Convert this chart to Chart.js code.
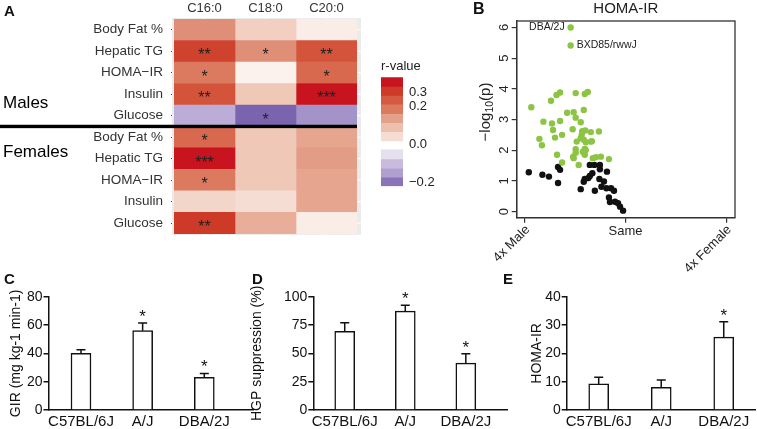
<!DOCTYPE html>
<html>
<head>
<meta charset="utf-8">
<script src="https://cdn.jsdelivr.net/npm/chart.js@4.4.1/dist/chart.umd.min.js"></script>
<style>
  body { margin: 0; background: #fff; width: 757px; height: 429px; overflow: hidden; position: relative; font-family: 'Liberation Sans', Arial, sans-serif; }
  canvas { position: absolute; }
  .tag { position: absolute; font-weight: bold; line-height: 1; color: #111; }
</style>
</head>
<body>
<canvas id="heat" width="370" height="250" style="left:0;top:0"></canvas>
<canvas id="legend" width="70" height="140" style="left:370px;top:60px"></canvas>
<canvas id="volcano" width="287" height="280" style="left:470px;top:0"></canvas>
<canvas id="gir" width="257" height="159" style="left:0;top:270px"></canvas>
<canvas id="hgp" width="260" height="159" style="left:250px;top:270px"></canvas>
<canvas id="homa" width="257" height="159" style="left:500px;top:270px"></canvas>
<div class="tag" style="left:4px;top:3px;font-size:15px">A</div>
<div class="tag" style="left:473px;top:1px;font-size:16px">B</div>
<div class="tag" style="left:4px;top:271px;font-size:15px">C</div>
<div class="tag" style="left:252px;top:271px;font-size:15px">D</div>
<div class="tag" style="left:503px;top:271px;font-size:15px">E</div>
<script>
// ---- panel A: correlation heatmap ----
const traits   = ['Body Fat %', 'Hepatic TG', 'HOMA−IR', 'Insulin', 'Glucose'];
const rowNames = [...traits, ...traits];          // males then females
const lipids   = ['C16:0', 'C18:0', 'C20:0'];
const groups   = ['Males', 'Females'];

const rC16 = [0.17, 0.28, 0.21, 0.26, -0.12, 0.23, 0.34, 0.21, 0.06, 0.29];
const rC18 = [0.07, 0.17, 0.01, 0.08, -0.22, 0.08, 0.08, 0.08, 0.05, 0.11];
const rC20 = [0.02, 0.26, 0.23, 0.34, -0.16, 0.12, 0.14, 0.12, 0.12, 0.02];
const starsC16 = ['', '**', '*', '**', '', '*', '***', '*', '', '**'];
const starsC18 = ['', '*', '', '', '*', '', '', '', '', ''];
const starsC20 = ['', '**', '*', '***', '', '', '', '', '', ''];

// colour bar
const legendBins   = [0.34, 0.29, 0.25, 0.21, 0.13, 0.09, 0.05, null, -0.05, -0.10, -0.14, -0.20];
const legendTicks  = [1.65, 3.2, 7.4, 11.6];
const legendLabels = ['0.3', '0.2', '0.0', '−0.2'];

// ---- panel B: sex-bias volcano ----
const sigFold = [-1.09, -1.09, -1.87, -1.48, -1.37, -1.30, -0.99, -0.81, -0.75, -1.16, -1.03, -0.83,
  -1.63, -1.46, -1.30, -0.99, -0.89, -1.44, -1.05, -1.40, -1.26, -1.71, -1.66, -0.86, -0.80, -0.69,
  -0.53, -0.87, -0.89, -0.83, -0.67, -0.79, -0.99, -0.81, -1.36, -1.26, -1.04, -0.99, -0.93, -0.85,
  -0.81, -0.79, -0.65, -0.59, -0.49, -0.33, -0.97, -0.69, -1.03];
const sigLogP = [6.00, 5.41, 3.40, 3.61, 3.80, 3.88, 3.86, 3.83, 3.90, 3.22, 3.24, 3.31,
  2.93, 2.87, 2.95, 3.06, 2.91, 2.66, 2.68, 2.41, 2.50, 2.37, 2.16, 2.62, 2.64, 2.59,
  2.61, 2.50, 2.39, 2.34, 2.29, 2.26, 2.03, 2.04, 1.85, 1.60, 1.79, 1.92, 1.52, 1.95,
  1.85, 2.01, 1.74, 1.77, 1.79, 1.71, 2.28, 2.28, 1.74];
const nsFold = [-1.92, -1.65, -1.52, -1.34, -1.30, -1.34, -0.71, -0.62, -0.51, -0.51, -0.37, -0.66,
  -0.71, -0.81, -0.83, -0.89, -0.61, -0.52, -0.43, -0.48, -0.38, -0.29, -0.23, -0.33, -0.31, -0.21,
  -0.15, -0.11, -0.05, -0.74];
const nsLogP = [1.28, 1.20, 1.14, 1.45, 1.36, 0.93, 1.52, 1.52, 1.52, 1.38, 1.30, 1.25,
  1.16, 1.06, 0.97, 0.73, 0.68, 1.06, 0.98, 0.81, 0.76, 0.76, 0.68, 0.46, 0.31, 0.32,
  0.27, 0.16, 0.03, 1.09];
const namedStrains = ['DBA/2J', 'BXD85/rwwJ'];   // first two significant points
const foldTicks  = [-2, 0, 2];
const foldLabels = ['4x Male', 'Same', '4x Female'];
const logpTicks  = [0, 1, 2, 3, 4, 5, 6];

// ---- panels C-E: strain comparison ----
const strains  = ['C57BL/6J', 'A/J', 'DBA/2J'];
const gir      = [40, 56, 23];
const girSem   = [2.5, 5.5, 2.8];
const girSig   = ['', '*', '*'];
const hgp      = [69.5, 87.2, 41.4];
const hgpSem   = [7.4, 5.3, 8.3];
const hgpSig   = ['', '*', '*'];
const homa     = [9.2, 8.0, 25.7];
const homaSem  = [2.4, 2.6, 5.5];
const homaSig  = ['', '', '*'];

const FONT = "'Liberation Sans', Arial, sans-serif";
Chart.defaults.font.family = FONT;
Chart.defaults.color = '#222';

const base = {
  responsive: false, animation: false, devicePixelRatio: 1,
  plugins: { legend: { display: false }, tooltip: { enabled: false } },
};

// r -> colour, ggplot-like red/purple diverging scale
const rStops   = [-0.22, -0.16, -0.12, -0.05, 0, 0.05, 0.08, 0.12, 0.17, 0.21, 0.23, 0.26, 0.29, 0.34];
const rColours = ['#7a64ae', '#a493c8', '#bcadd8', '#e5dfee', '#fdf6f3', '#f5ddd3', '#f0c8b8',
  '#e5a58f', '#df8f78', '#dc7a60', '#d8694f', '#d4533b', '#cd3a28', '#c8141e'];
function hex(c) { return [1, 3, 5].map(i => parseInt(c.slice(i, i + 2), 16)); }
function rColor(r) {
  if (r <= rStops[0]) return rColours[0];
  const n = rStops.length - 1;
  if (r >= rStops[n]) return rColours[n];
  let i = 0;
  while (r > rStops[i + 1]) i++;
  const t = (r - rStops[i]) / (rStops[i + 1] - rStops[i]);
  const a = hex(rColours[i]), b = hex(rColours[i + 1]);
  return `rgb(${a.map((v, k) => Math.round(v + (b[k] - v) * t)).join(',')})`;
}

// heatmap: each column is a stacked horizontal bar of unit width
const heatDecor = {
  id: 'heatDecor',
  beforeDatasetsDraw(chart) {
    const { ctx, chartArea: a, scales: { x, y } } = chart;
    ctx.save();
    ctx.fillStyle = '#ebebeb';
    ctx.fillRect(a.left - 2, a.top - 1, a.right - a.left + 6, a.bottom - a.top + 2);
    ctx.strokeStyle = '#fff';
    ctx.lineWidth = 1;
    y.ticks.forEach((t, i) => {
      const py = y.getPixelForTick(i);
      ctx.beginPath(); ctx.moveTo(a.left - 2, py); ctx.lineTo(a.right + 4, py); ctx.stroke();
    });
    x.ticks.forEach(t => {
      const px = x.getPixelForValue(t.value);
      ctx.beginPath(); ctx.moveTo(px, a.top - 1); ctx.lineTo(px, a.bottom + 1); ctx.stroke();
    });
    ctx.restore();
  },
  afterDatasetsDraw(chart) {
    const { ctx, chartArea: a, scales: { y } } = chart;
    const stars = [starsC16, starsC18, starsC20];
    ctx.save();
    ctx.fillStyle = '#222';
    ctx.font = '16px ' + FONT;
    ctx.textAlign = 'center';
    ctx.textBaseline = 'alphabetic';
    stars.forEach((col, c) => {
      chart.getDatasetMeta(c).data.forEach((el, r) => {
        if (col[r]) ctx.fillText(col[r], (el.x + el.base) / 2, el.y + 9);
      });
    });
    // sex separator
    const split = (y.getPixelForTick(4) + y.getPixelForTick(5)) / 2;
    ctx.fillStyle = '#000';
    ctx.fillRect(0, split - 1.7, a.right, 3.4);
    ctx.font = '17px ' + FONT;
    ctx.textAlign = 'left';
    ctx.textBaseline = 'middle';
    ctx.fillText(groups[0], 3, split - 23.5);
    ctx.fillText(groups[1], 3, split + 26);
    ctx.restore();
  },
};

new Chart(document.getElementById('heat'), {
  type: 'bar',
  data: {
    labels: rowNames,
    datasets: [rC16, rC18, rC20].map(rs => ({
      data: rs.map(() => 1),
      backgroundColor: rs.map(rColor),
      borderWidth: 0,
      barPercentage: 1,
      categoryPercentage: 1,
    })),
  },
  options: {
    ...base,
    indexAxis: 'y',
    layout: { padding: { right: 13, bottom: 10 } },
    scales: {
      x: {
        position: 'top', stacked: true, min: 0, max: 3,
        afterBuildTicks: s => { s.ticks = lipids.map((_, i) => ({ value: i + 0.5 })); },
        afterFit: s => { s.height = 19; },
        ticks: { callback: (v, i) => lipids[i], font: { size: 13 }, color: '#333', padding: 3, maxRotation: 0, autoSkip: false },
        grid: { display: false, drawTicks: false },
        border: { display: false },
      },
      y: {
        stacked: true,
        afterFit: s => { s.width = 174; },
        ticks: { font: { size: 13.5 }, color: '#333', padding: 8, autoSkip: false },
        grid: { offset: false, drawOnChartArea: false, tickLength: 3, color: '#444' },
        border: { display: false },
      },
    },
  },
  plugins: [heatDecor],
});

// colour bar as floating bars
new Chart(document.getElementById('legend'), {
  type: 'bar',
  data: {
    labels: [''],
    datasets: legendBins.map((r, i) => r === null ? null : ({
      data: [[i, i + 1]],
      backgroundColor: rColor(r),
      borderWidth: 0,
      grouped: false,
      barPercentage: 1,
      categoryPercentage: 1,
    })).filter(d => d),
  },
  options: {
    ...base,
    layout: { padding: { left: 11, top: 17.3, bottom: 10.7 } },
    scales: {
      x: { display: false },
      y: {
        position: 'right', reverse: true, min: 0, max: 12,
        afterBuildTicks: s => { s.ticks = legendTicks.map(v => ({ value: v })); },
        afterFit: s => { s.width = 37; },
        ticks: { callback: (v, i) => legendLabels[i], font: { size: 13 }, color: '#222', padding: 6 },
        grid: { display: false, drawTicks: false },
        border: { display: false },
      },
    },
  },
  plugins: [{
    id: 'legendTitle',
    afterDraw(chart) {
      const { ctx, chartArea: a } = chart;
      ctx.save();
      ctx.fillStyle = '#222';
      ctx.font = '13px ' + FONT;
      ctx.textBaseline = 'middle';
      ctx.fillText('r-value', a.left, 6.7);
      ctx.restore();
    },
  }],
});

// volcano: base-R look, box, rotated tick labels
const volcanoDecor = {
  id: 'volcanoDecor',
  afterDraw(chart) {
    const { ctx, chartArea: a, scales: { x, y } } = chart;
    ctx.save();
    ctx.strokeStyle = '#333';
    ctx.lineWidth = 1.3;
    ctx.strokeRect(a.left, a.top, a.right - a.left, a.bottom - a.top);

    ctx.fillStyle = '#222';
    ctx.font = '13px ' + FONT;
    ctx.textBaseline = 'middle';
    ctx.textAlign = 'center';
    y.ticks.forEach(t => {
      ctx.save();
      ctx.translate(a.left - 12, y.getPixelForValue(t.value));
      ctx.rotate(-Math.PI / 2);
      ctx.fillText(String(t.value), 0, 0);
      ctx.restore();
    });
    x.ticks.forEach((t, i) => {
      const px = x.getPixelForValue(t.value);
      if (i === 1) {
        ctx.textAlign = 'center';
        ctx.fillText(foldLabels[i], px, a.bottom + 13.5);
      } else {
        ctx.save();
        ctx.translate(px + 3, a.bottom + 10);
        ctx.rotate(-Math.PI / 4);
        ctx.textAlign = 'right';
        ctx.fillText(foldLabels[i], 0, 0);
        ctx.restore();
      }
    });

    // strain labels
    const pts = chart.getDatasetMeta(0).data;
    ctx.font = '10.5px ' + FONT;
    ctx.textAlign = 'right';
    ctx.fillText(namedStrains[0], pts[0].x - 6, pts[0].y);
    ctx.textAlign = 'left';
    ctx.fillText(namedStrains[1], pts[1].x + 6, pts[1].y);

    // title
    ctx.font = '15px ' + FONT;
    ctx.textAlign = 'center';
    ctx.fillText('HOMA-IR', (a.left + a.right) / 2, 9);

    // y title with subscript
    ctx.save();
    ctx.translate(15, 112);
    ctx.rotate(-Math.PI / 2);
    const big = '15px ' + FONT, small = '10.5px ' + FONT;
    ctx.font = big;
    const w1 = ctx.measureText('−log').width, w3 = ctx.measureText('(p)').width;
    ctx.font = small;
    const w2 = ctx.measureText('10').width;
    let sx = -(w1 + w2 + w3) / 2;
    ctx.textAlign = 'left';
    ctx.textBaseline = 'alphabetic';
    ctx.font = big;   ctx.fillText('−log', sx, 5); sx += w1;
    ctx.font = small; ctx.fillText('10', sx, 8);   sx += w2;
    ctx.font = big;   ctx.fillText('(p)', sx, 5);
    ctx.restore();
    ctx.restore();
  },
};

new Chart(document.getElementById('volcano'), {
  type: 'scatter',
  data: {
    datasets: [
      { data: sigFold.map((x, i) => ({ x, y: sigLogP[i] })), backgroundColor: '#8cc443', pointRadius: 3.2, borderWidth: 0 },
      { data: nsFold.map((x, i) => ({ x, y: nsLogP[i] })), backgroundColor: '#111', pointRadius: 3.2, borderWidth: 0 },
    ],
  },
  options: {
    ...base,
    layout: { padding: { top: 21, right: 22 } },
    scales: {
      x: {
        min: -2.16, max: 2.17,
        afterBuildTicks: s => { s.ticks = foldTicks.map(v => ({ value: v })); },
        afterFit: s => { s.height = 62.3; },
        ticks: { display: false },
        grid: { drawOnChartArea: false, tickLength: 5, color: '#333', lineWidth: 1.2 },
        border: { color: '#333', width: 1.3 },
      },
      y: {
        min: -0.2, max: 6.21,
        afterBuildTicks: s => { s.ticks = logpTicks.map(v => ({ value: v })); },
        afterFit: s => { s.width = 46.7; },
        ticks: { display: false },
        grid: { drawOnChartArea: false, tickLength: 5, color: '#333', lineWidth: 1.2 },
        border: { color: '#333', width: 1.3 },
      },
    },
  },
  plugins: [volcanoDecor],
});

// bar panels with one-sided SEM whiskers
function errorBars(errors, stars) {
  return {
    id: 'errorBars',
    afterDatasetsDraw(chart) {
      const { ctx, scales: { y } } = chart;
      const bars = chart.getDatasetMeta(0).data;
      const vals = chart.data.datasets[0].data;
      ctx.save();
      ctx.strokeStyle = '#111';
      ctx.lineWidth = 1.5;
      ctx.fillStyle = '#111';
      ctx.font = '17px ' + FONT;
      ctx.textAlign = 'center';
      bars.forEach((bar, i) => {
        const top = y.getPixelForValue(vals[i].y + errors[i]);
        ctx.beginPath();
        ctx.moveTo(bar.x, bar.y); ctx.lineTo(bar.x, top);
        ctx.moveTo(bar.x - 4.5, top); ctx.lineTo(bar.x + 4.5, top);
        ctx.stroke();
        if (stars[i]) ctx.fillText(stars[i], bar.x, top - 1);
      });
      ctx.restore();
    },
  };
}

function barPanel(id, values, errors, stars, cfg) {
  return new Chart(document.getElementById(id), {
    type: 'bar',
    data: {
      datasets: [{
        data: values.map((v, i) => ({ x: i + 1, y: v })),
        backgroundColor: '#fff',
        borderColor: '#111',
        borderWidth: 1.5,
        borderSkipped: 'bottom',
        barThickness: 20,
      }],
    },
    options: {
      ...base,
      layout: { padding: { top: 26.7, right: cfg.right } },
      scales: {
        x: {
          type: 'linear', offset: false, min: cfg.xMin, max: cfg.xMax,
          afterBuildTicks: s => { s.ticks = strains.map((_, i) => ({ value: i + 1 })); },
          afterFit: s => { s.height = 19; },
          ticks: { callback: (v, i) => strains[i], font: { size: 15 }, color: '#111', padding: 3, maxRotation: 0, autoSkip: false },
          grid: { display: false, drawTicks: false, offset: false },
          border: { color: '#111', width: 1.5 },
        },
        y: {
          min: 0, max: cfg.yMax,
          afterFit: s => { s.width = cfg.yWidth; },
          ticks: { stepSize: cfg.step, font: { size: 14 }, color: '#111', padding: 1 },
          grid: { drawOnChartArea: false, tickLength: 5, color: '#111', lineWidth: 1.5 },
          border: { color: '#111', width: 1.5 },
          title: { display: true, text: cfg.title, color: '#111', font: { size: 14, lineHeight: 1 }, padding: { top: cfg.titlePad, bottom: 0 } },
        },
      },
    },
    plugins: [errorBars(errors, stars)],
  });
}

barPanel('gir', gir, girSem, girSig,
  { title: 'GIR (mg kg-1 min-1)', yMax: 80, step: 20, yWidth: 48.5, titlePad: 9, xMin: 0.473, xMax: 3.79, right: 4 });
barPanel('hgp', hgp, hgpSem, hgpSig,
  { title: 'HGP suppression (%)', yMax: 100, step: 25, yWidth: 63.3, titlePad: 0, xMin: 0.481, xMax: 3.68, right: 3 });
barPanel('homa', homa, homaSem, homaSig,
  { title: 'HOMA-IR', yMax: 40, step: 10, yWidth: 66.7, titlePad: 29.7, xMin: 0.488, xMax: 3.5, right: 2 });
</script>
</body>
</html>
